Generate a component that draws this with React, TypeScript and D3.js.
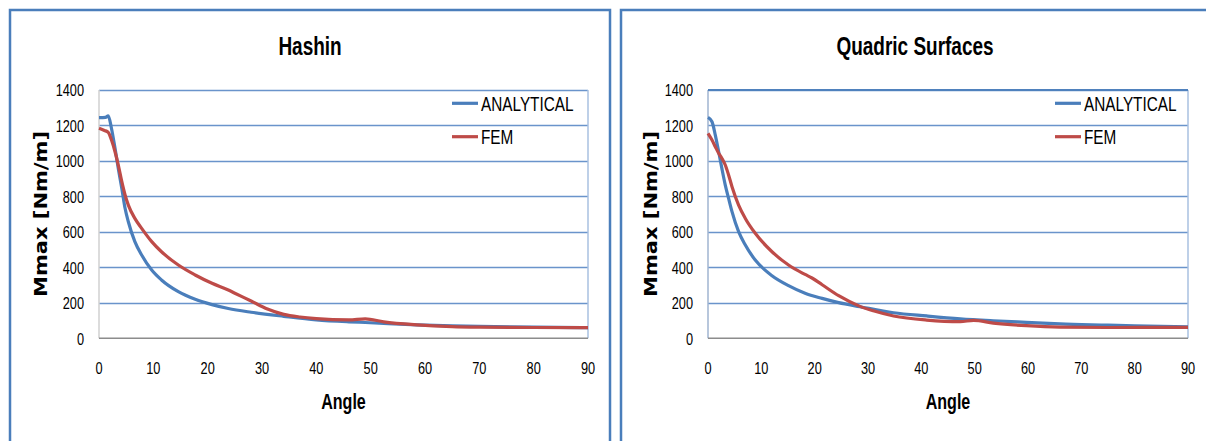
import React, { useRef, useEffect } from 'react';
import * as d3 from 'd3';

// axis ticks
const yTicks = [0, 200, 400, 600, 800, 1000, 1200, 1400];
const xTicks = [0, 10, 20, 30, 40, 50, 60, 70, 80, 90];

const seriesNames = ['ANALYTICAL', 'FEM'];
const seriesColors = ['#4A7EBB', '#BE4B48'];
const panelTitles = ['Hashin', 'Quadric Surfaces'];

// Hashin
const hashinAnalyticalAngle = [0, 1.2, 1.7, 2.3, 2.95, 3.55, 4.2, 4.8, 5.4, 6.6, 7.85, 9.7, 11.5, 14.6, 17.7, 20.8, 23.8, 28, 34, 40, 46, 49, 52.4, 58.5, 65, 70, 80, 90];
const hashinAnalyticalValue = [1244, 1246, 1254, 1183, 1071, 958, 845, 733, 657, 545, 470, 385, 329, 263, 220, 190, 168, 147, 124, 104, 93, 89, 84, 76, 70, 67, 63, 60];
const hashinFemAngle = [0, 1, 1.7, 2.3, 2.95, 3.55, 4.2, 4.8, 5.4, 6.6, 7.85, 9.7, 11.5, 14.6, 17.7, 20.8, 23.8, 25, 28, 31, 34, 37, 40, 46, 49, 52.4, 58.5, 65, 70, 80, 90];
const hashinFemValue = [1184, 1172, 1161, 1118, 1052, 977, 883, 808, 751, 676, 620, 545, 488, 413, 357, 310, 272, 254, 210, 165, 135, 120, 111, 104, 110, 93, 76, 66, 63, 61, 60];

// Quadric Surfaces
const quadricAnalyticalAngle = [0, 0.75, 1.37, 2.0, 2.6, 3.24, 3.86, 4.5, 5.74, 7.0, 8.86, 12, 15.1, 18.2, 21.4, 24.5, 28.5, 34.8, 41, 47.3, 53.5, 59.7, 66, 75, 80, 90];
const quadricAnalyticalValue = [1246, 1221, 1146, 1052, 958, 864, 789, 714, 601, 526, 441, 353, 297, 254, 225, 201, 178, 144, 126, 110, 99, 90, 81, 74, 70, 64];
const quadricFemAngle = [0, 0.75, 1.37, 2.0, 2.6, 3.24, 3.86, 4.5, 5.74, 7.0, 8.86, 12, 15.1, 18.2, 19.5, 21.4, 24.5, 28.5, 31, 34.8, 41, 47.3, 49.8, 53.5, 59.7, 66, 75, 90];
const quadricFemValue = [1156, 1118, 1080, 1043, 1015, 977, 921, 855, 751, 676, 592, 488, 413, 360, 340, 302, 240, 180, 155, 126, 103, 94, 101, 86, 71, 63, 61, 62];

const zip = (a: number[], b: number[]) => a.map((v, i) => [v, b[i]] as [number, number]);

const FONT = '"Liberation Sans", Arial, sans-serif';

function addText(g, x, y, str, size, weight, anchor, sx) {
    return g.append('text')
        .attr('transform', 'translate(' + x + ',' + y + ') scale(' + sx + ',1)')
        .attr('text-anchor', anchor)
        .style('font-family', FONT)
        .style('font-size', size + 'px')
        .style('font-weight', weight)
        .attr('fill', '#000')
        .text(str);
}

function drawPanel(svg, p) {
    const x = d3.scaleLinear().domain([0, 90]).range([p.left, p.right]);
    const y = d3.scaleLinear().domain([0, 1400]).range([338.3, 90]);

    // outer frame of the chart
    svg.append('rect')
        .attr('x', p.frameX).attr('y', 10)
        .attr('width', p.frameW).attr('height', 460)
        .attr('fill', '#fff')
        .attr('stroke', '#4A7EBB')
        .attr('stroke-width', 2.5);

    addText(svg, p.titleX, 55, p.title, 26, 'bold', 'middle', 0.73);

    // gridlines
    svg.append('g').selectAll('line')
        .data(yTicks.filter(t => t > 0))
        .enter().append('line')
        .attr('x1', p.left).attr('x2', p.right)
        .attr('y1', d => Math.round(y(d)) + 0.5).attr('y2', d => Math.round(y(d)) + 0.5)
        .attr('stroke', '#6A94CB')
        .attr('stroke-width', 1.3);

    // plot area edges
    svg.append('line')
        .attr('x1', p.left).attr('x2', p.left).attr('y1', y(1400)).attr('y2', y(0))
        .attr('stroke', p.leftEdge).attr('stroke-width', 1.5);
    svg.append('line')
        .attr('x1', p.right).attr('x2', p.right).attr('y1', y(1400)).attr('y2', y(0))
        .attr('stroke', '#A8C0E0').attr('stroke-width', 1.5);
    if (p.topEdge) {
        svg.append('line')
            .attr('x1', p.left).attr('x2', p.right).attr('y1', y(1400)).attr('y2', y(1400))
            .attr('stroke', '#4F81BD').attr('stroke-width', 2);
    }
    svg.append('line')
        .attr('x1', p.left).attr('x2', p.right).attr('y1', y(0)).attr('y2', y(0))
        .attr('stroke', '#8C8C8C').attr('stroke-width', 1.5);

    // tick labels
    yTicks.forEach(t => addText(svg, p.left - 15, y(t) + 6.2, String(t), 17, 'normal', 'end', 0.75));
    xTicks.forEach(t => addText(svg, x(t), 374, String(t), 17, 'normal', 'middle', 0.75));

    // axis titles
    addText(svg, (p.left + p.right) / 2, 409, 'Angle', 22, 'bold', 'middle', 0.73);
    svg.append('text')
        .attr('transform', 'translate(' + (p.labelX + 6.8) + ',214) rotate(-90) scale(1,0.88)')
        .attr('text-anchor', 'middle')
        .style('font-family', '"DejaVu Sans", Verdana, sans-serif')
        .style('font-size', '21px')
        .style('font-weight', 'bold')
        .attr('textLength', 166)
        .attr('lengthAdjust', 'spacingAndGlyphs')
        .text('Mmax [Nm/m]');

    // data lines
    const line = d3.line()
        .x(d => x(d[0]))
        .y(d => y(d[1]))
        .curve(d3.curveMonotoneX);
    p.series.forEach((s, i) => {
        svg.append('path')
            .datum(s)
            .attr('fill', 'none')
            .attr('stroke', seriesColors[i])
            .attr('stroke-width', 3.2)
            .attr('stroke-linejoin', 'round')
            .attr('d', line);
    });

    // legend
    seriesNames.forEach((name, i) => {
        const ly = 103.3 + i * 33.4;
        svg.append('line')
            .attr('x1', p.legendX).attr('x2', p.legendX + 26)
            .attr('y1', ly).attr('y2', ly)
            .attr('stroke', seriesColors[i])
            .attr('stroke-width', 3.2);
        addText(svg, p.legendX + 29, ly + 7.6, name, 21, 'normal', 'start', 0.73);
    });
}

export default function App() {
    const svgRef = useRef(null);
    useEffect(() => {
        const svg = d3.select(svgRef.current);
        svg.selectAll('*').remove();
        svg.append('rect').attr('width', 1206).attr('height', 441).attr('fill', '#fff');

        drawPanel(svg, {
            title: panelTitles[0], frameX: 10, frameW: 600, titleX: 310,
            left: 99, right: 588, labelX: 40, legendX: 452,
            leftEdge: '#D0D0D0', topEdge: false,
            series: [zip(hashinAnalyticalAngle, hashinAnalyticalValue), zip(hashinFemAngle, hashinFemValue)]
        });
        drawPanel(svg, {
            title: panelTitles[1], frameX: 621, frameW: 600, titleX: 915,
            left: 708, right: 1188, labelX: 650, legendX: 1055,
            leftEdge: '#A0B4D0', topEdge: true,
            series: [zip(quadricAnalyticalAngle, quadricAnalyticalValue), zip(quadricFemAngle, quadricFemValue)]
        });
    }, []);
    return (
        <svg ref={svgRef} width={1206} height={441}
            style={{ position: 'absolute', left: 0, top: 0, display: 'block' }} />
    );
}
